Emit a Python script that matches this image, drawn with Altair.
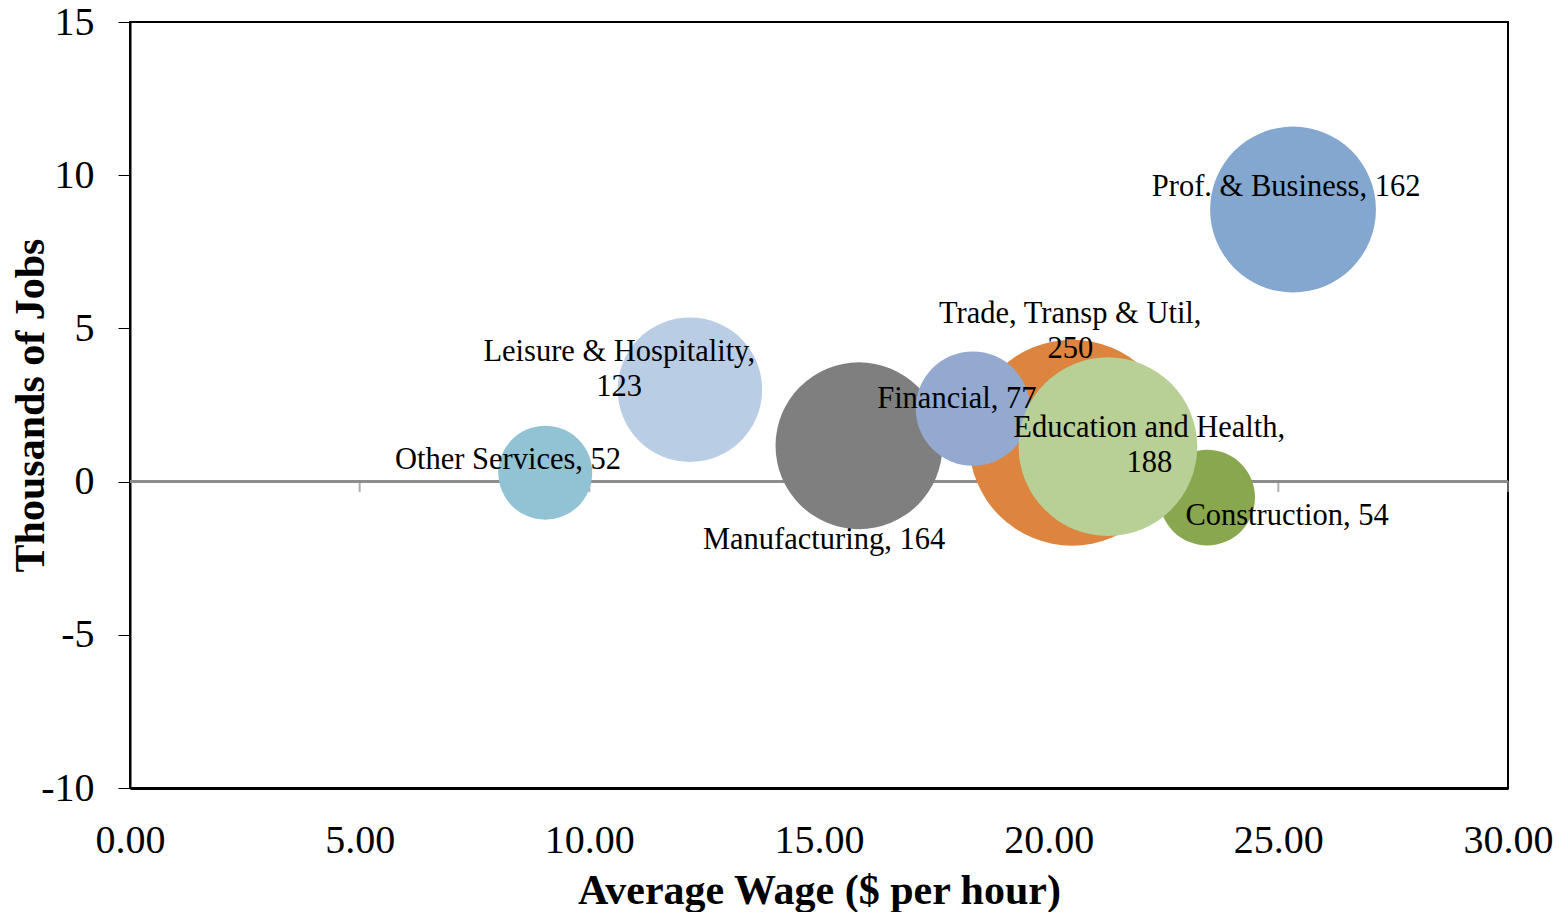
import altair as alt
import pandas as pd

# Drawing order (later rows on top)
sectors = ["Trade, Transp & Util", "Manufacturing", "Prof. & Business", "Leisure & Hospitality",
           "Financial", "Construction", "Other Services", "Education and Health"]
wages = [20.51, 15.87, 25.32, 12.19, 18.35, 23.45, 9.04, 21.29]
job_change = [1.27, 1.17, 8.88, 3.00, 2.38, -0.52, 0.29, 1.14]
employment = [250, 164, 162, 123, 77, 54, 52, 188]
colors = ["#DD843E", "#7F7F7F", "#84A7CF", "#B9CDE5", "#93A9D0", "#89A74E", "#92C3D4", "#B8CF96"]
labels = ["Trade, Transp & Util,\n250", "Manufacturing, 164", "Prof. & Business, 162",
          "Leisure & Hospitality,\n123", "Financial, 77", "Construction, 54",
          "Other Services, 52", "Education and Health,\n188"]
label_x = [20.47, 15.11, 25.17, 10.65, 18.0, 25.19, 8.23, 22.19]
label_y = [5.48, -1.89, 9.63, 4.24, 2.68, -1.11, 0.69, 1.76]
x_ticks = [5, 10, 15, 20, 25, 30]

df = pd.DataFrame({"sector": sectors, "wage": wages, "jobs": job_change, "emp": employment,
                   "label": labels, "lx": label_x, "ly": label_y, "order": list(range(len(sectors)))})
ticks_df = pd.DataFrame({"t": x_ticks, "z": [0] * len(x_ticks)})

FONT = "Liberation Serif"
xscale = alt.Scale(domain=[0, 30], nice=False, zero=False)
yscale = alt.Scale(domain=[-10, 15], nice=False, zero=False)

bubbles = alt.Chart(df).mark_circle(opacity=1, strokeWidth=0).encode(
    x=alt.X("wage:Q", scale=xscale, title="Average Wage ($ per hour)",
            axis=alt.Axis(values=[0, 5, 10, 15, 20, 25, 30], format=".2f", ticks=False,
                          labelPadding=32, labelFontSize=40, labelFont=FONT, labelColor="#000",
                          labelFlush=False, labelOverlap=False,
                          domainColor="#000", domainWidth=3, grid=False,
                          titleFont=FONT, titleFontSize=42, titleFontWeight="bold", titleColor="#000",
                          titleY=102, titleBaseline="middle")),
    y=alt.Y("jobs:Q", scale=yscale, title="Thousands of  Jobs",
            axis=alt.Axis(values=[-10, -5, 0, 5, 10, 15], tickSize=12, tickColor="#000",
                          labelExpr="toString(datum.value)",
                          labelPadding=24, labelFontSize=40, labelFont=FONT, labelColor="#000",
                          labelFlush=False, labelOverlap=False,
                          domainColor="#000", domainWidth=2, grid=False,
                          titleFont=FONT, titleFontSize=42, titleFontWeight="bold", titleColor="#000",
                          titleX=-100, titleY=383, titleAlign="center", titleBaseline="middle",
                          titleAngle=-90)),
    size=alt.Size("emp:Q", scale=alt.Scale(domain=[0, 250], range=[0, 42436]), legend=None),
    color=alt.Color("sector:N", scale=alt.Scale(domain=sectors, range=colors), legend=None),
    order=alt.Order("order:Q"),
)

zero_line = alt.Chart(ticks_df).mark_rule(color="#8C8C8C", strokeWidth=2).encode(
    y=alt.Y("z:Q", scale=yscale),
    x=alt.value(0), x2=alt.value(1378),
)

zero_ticks = alt.Chart(ticks_df).mark_tick(color="#8C8C8C", orient="vertical", size=11,
                                           thickness=2, yOffset=5).encode(
    x=alt.X("t:Q", scale=xscale),
    y=alt.Y("z:Q", scale=yscale),
)

texts = alt.Chart(df).mark_text(font=FONT, fontSize=30.5, color="#000", lineBreak="\n",
                                lineHeight=35, align="center", baseline="middle").encode(
    x=alt.X("lx:Q", scale=xscale),
    y=alt.Y("ly:Q", scale=yscale),
    text="label:N",
)

chart = alt.layer(zero_line, zero_ticks, bubbles, texts).properties(
    width=1378, height=766,
    autosize=alt.AutoSizeParams(type="none"),
    padding={"left": 130, "top": 22, "right": 59, "bottom": 124},
    background="white",
).configure_view(stroke="#000", strokeWidth=2)

chart.save("out.html", embed_options={"renderer": "svg", "actions": False})
